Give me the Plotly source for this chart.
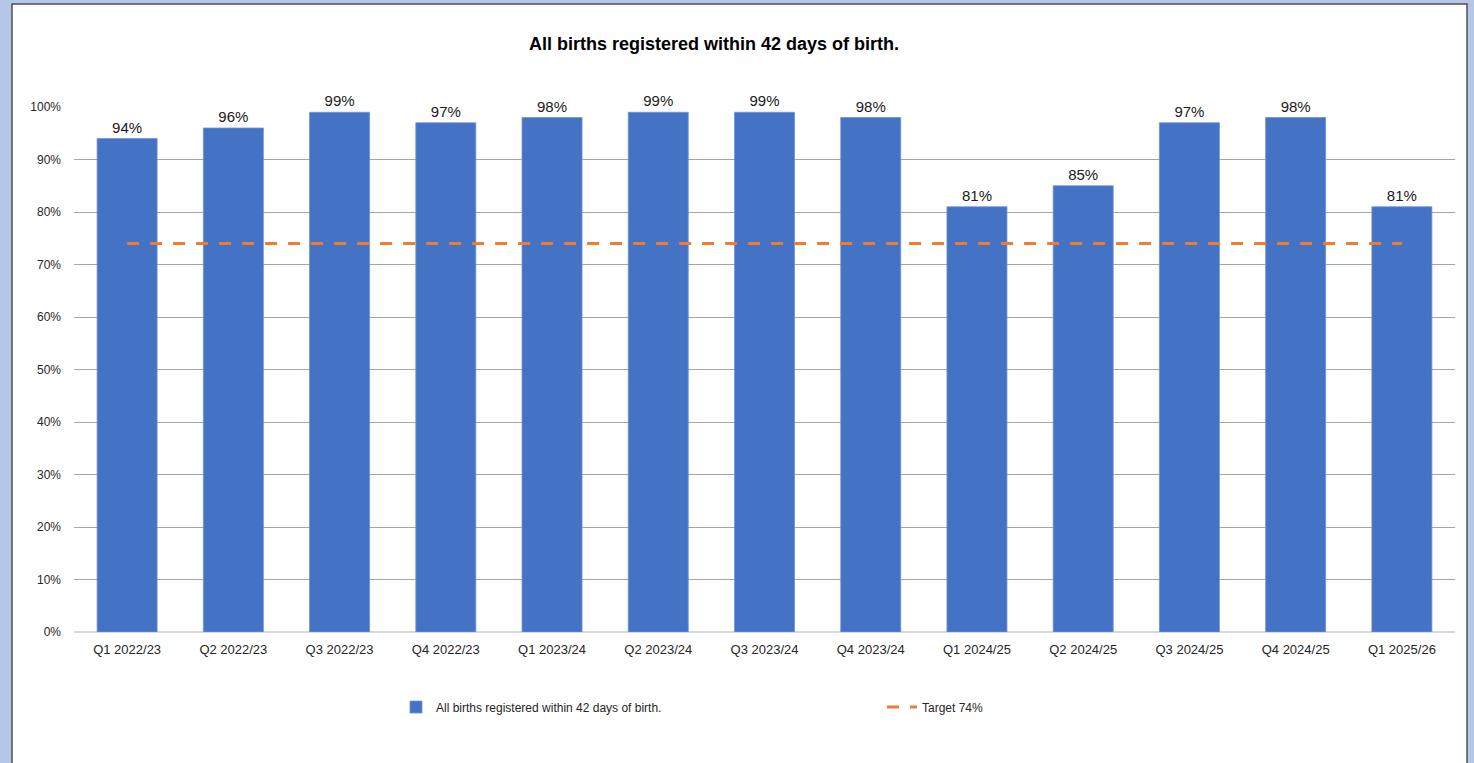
import plotly.graph_objects as go

categories = ["Q1 2022/23", "Q2 2022/23", "Q3 2022/23", "Q4 2022/23", "Q1 2023/24",
              "Q2 2023/24", "Q3 2023/24", "Q4 2023/24", "Q1 2024/25", "Q2 2024/25",
              "Q3 2024/25", "Q4 2024/25", "Q1 2025/26"]
births_pct = [94, 96, 99, 97, 98, 99, 99, 98, 81, 85, 97, 98, 81]
target_pct = [74] * len(categories)
y_ticks = [0, 10, 20, 30, 40, 50, 60, 70, 80, 90, 100]

W, H = 1474, 763
L, R, T, B = 74, 19, 107, 131
pw, ph = W - L - R, H - T - B

def px_x(p):
    return (p - L) / pw

def px_y(p):
    return (H - B - p) / ph

FONT = "Liberation Sans, Arial, sans-serif"

fig = go.Figure()
fig.add_trace(go.Bar(
    x=categories, y=[v / 100 for v in births_pct],
    name="All births registered within 42 days of birth.",
    marker=dict(color="#4472C4", line=dict(width=0.8, color="#6E93D6")),
    text=[f"{v}%" for v in births_pct], textposition="outside",
    textfont=dict(size=15, color="#1a1a1a", family=FONT),
    cliponaxis=False,
))
fig.add_trace(go.Scatter(
    x=categories, y=[v / 100 for v in target_pct], mode="lines",
    name="Target 74%",
    line=dict(color="#ED7D31", width=3, dash="12px,11px"),
))

shapes = [
    dict(type="rect", xref="paper", yref="paper",
         x0=px_x(12), x1=px_x(1467), y0=px_y(780), y1=px_y(4),
         fillcolor="white", line=dict(color="#505050", width=1.5), layer="below"),
]

fig.update_layout(
    width=W, height=H,
    margin=dict(l=L, r=R, t=T, b=B, pad=0),
    paper_bgcolor="#B4C7E7", plot_bgcolor="white",
    shapes=shapes,
    title=dict(text="<b>All births registered within 42 days of birth.</b>",
               x=px_x(714), xref="paper", xanchor="center",
               y=1 - 44 / H, yref="container", yanchor="middle",
               font=dict(size=18, color="#000000", family=FONT)),
    font=dict(family=FONT, color="#262626"),
    bargap=0.435,
    showlegend=True,
    legend=dict(orientation="h", x=px_x(396), xanchor="left",
                y=px_y(707), yanchor="middle",
                font=dict(size=12, color="#262626", family=FONT),
                entrywidth=441, entrywidthmode="pixels",
                bgcolor="rgba(0,0,0,0)", traceorder="normal"),
    xaxis=dict(showgrid=False, showline=False, ticks="",
               ticklabelstandoff=8,
               tickfont=dict(size=13, color="#262626", family=FONT)),
    yaxis=dict(range=[0, 1], tickvals=[v / 100 for v in y_ticks],
               ticktext=[f"{v}%" for v in y_ticks],
               showgrid=True, gridcolor="#A6A6A6", gridwidth=1,
               zeroline=True, zerolinecolor="#D9D9D9", zerolinewidth=1.5,
               showline=False, ticks="", ticklabelstandoff=12,
               tickfont=dict(size=12, color="#262626", family=FONT)),
)

fig.write_html("out.html")
